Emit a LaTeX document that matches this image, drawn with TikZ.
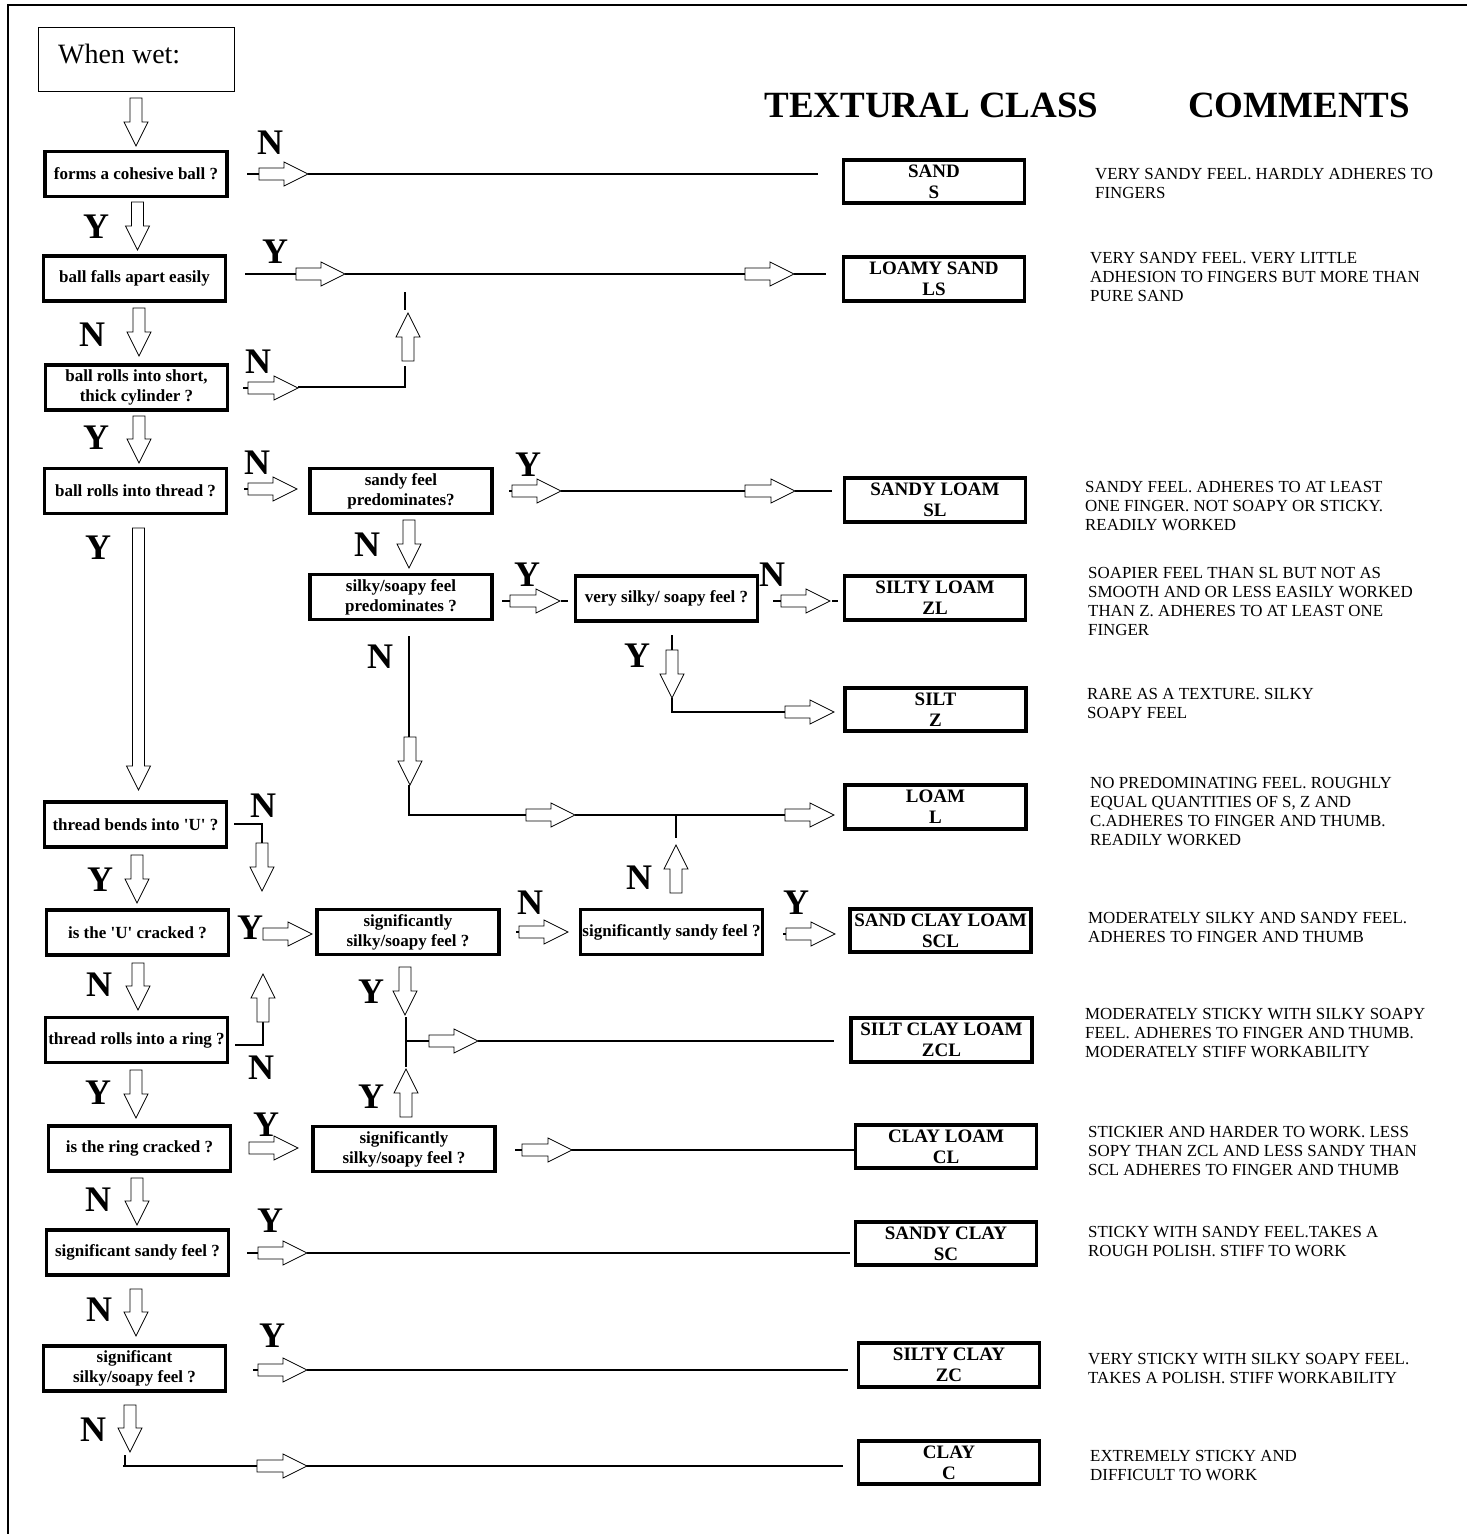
\documentclass[tikz,border=0pt]{standalone}
\usepackage{fontspec}
\setmainfont{Liberation Serif}
\newcommand{\blkarrow}[4]{\draw[blk, shift={(#1,#2)}, rotate=#3] (0,-6) -- ({#4-24},-6) -- ({#4-24},-12) -- (#4,0) -- ({#4-24},12) -- ({#4-24},6) -- (0,6) -- cycle;}
\begin{document}
\begin{tikzpicture}[x=1pt,y=-1pt,
  qbox/.style={draw, line width=3.8pt, minimum width=182pt, minimum height=45pt, inner sep=0pt, align=center, font=\fontsize{17}{20}\selectfont\bfseries},
  cbox/.style={draw, line width=3.8pt, minimum width=181pt, minimum height=43.5pt, inner sep=0pt, align=center, font=\fontsize{19}{21}\selectfont\bfseries},
  yn/.style={font=\fontsize{36}{36}\selectfont\bfseries, inner sep=0pt},
  com/.style={anchor=north west, align=left, inner sep=0pt, font=\fontsize{16.9}{19}\selectfont},
  hdr/.style={font=\fontsize{37}{40}\selectfont\bfseries, inner sep=0pt},
  conn/.style={line width=2.2pt},
  blk/.style={draw, fill=white, line width=0.8pt, line join=miter}
]
\useasboundingbox (0,0) rectangle (1467,1534);
% frame
\draw[line width=2.5pt] (8,1534) -- (8,5) -- (1467,5);
% title box
\node[draw, line width=1.4pt, minimum width=196pt, minimum height=64pt, inner sep=0pt] (wet) at (136.5,59.5) {};
\node[anchor=west, inner sep=0pt, font=\fontsize{28}{30}\selectfont] (wettext) at (58,54) {When wet:};
% headers
\node[hdr] (h1) at (931.5,105) {TEXTURAL CLASS};
\node[hdr] (h2) at (1299,105) {COMMENTS};
% question boxes, left column
\node[qbox] (q1) at (136,174) {forms a cohesive ball ?};
\node[qbox] (q2) at (134.5,278.5) {ball falls apart easily};
\node[qbox] (q3) at (136.5,387.5) {ball rolls into short,\\thick cylinder ?};
\node[qbox] (q4) at (135.5,491) {ball rolls into thread ?};
\node[qbox] (q5) at (135.5,824.5) {thread bends into \textquotesingle U\textquotesingle\ ?};
\node[qbox] (q6) at (137.5,932.5) {is the \textquotesingle U\textquotesingle\ cracked ?};
\node[qbox] (q7) at (136.5,1040) {thread rolls into a ring ?};
\node[qbox] (q8) at (139.5,1148.5) {is the ring cracked ?};
\node[qbox] (q9) at (137.5,1252.5) {significant sandy feel ?};
\node[qbox] (q10) at (134.5,1368.5) {significant\\silky/soapy feel ?};
% middle boxes
\node[qbox] (m1) at (401,491) {sandy feel\\predominates?};
\node[qbox] (m2) at (401,597) {silky/soapy feel\\predominates ?};
\node[qbox] (m3) at (666.5,598.5) {very silky/ soapy feel ?};
\node[qbox] (m4) at (408,932) {significantly\\silky/soapy feel ?};
\node[qbox] (m5) at (671.5,932) {significantly sandy feel ?};
\node[qbox] (m6) at (404,1149) {significantly\\silky/soapy feel ?};
% class boxes
\node[cbox] (cS) at (934,181.5) {SAND\\S\hspace*{0pt}};
\node[cbox] (cLS) at (934,279) {LOAMY SAND\\LS};
\node[cbox] (cSL) at (935,500) {SANDY LOAM\\SL};
\node[cbox] (cZL) at (935,598) {SILTY LOAM\\ZL};
\node[cbox] (cZ) at (935.5,709.5) {SILT\\Z};
\node[cbox] (cL) at (935.5,807) {LOAM\\L};
\node[cbox] (cSCL) at (940.5,930.5) {SAND CLAY LOAM\\SCL};
\node[cbox] (cZCL) at (941.5,1040) {SILT CLAY LOAM\\ZCL};
\node[cbox] (cCL) at (946,1146.5) {CLAY LOAM\\CL};
\node[cbox] (cSC) at (946,1243.5) {SANDY CLAY\\SC};
\node[cbox] (cZC) at (949,1365) {SILTY CLAY\\ZC};
\node[cbox] (cC) at (949,1462.5) {CLAY\\C};
% comments
\node[com] (t1) at (1095,168) {VERY SANDY FEEL. HARDLY ADHERES TO\\FINGERS};
\node[com] (t2) at (1090,252) {VERY SANDY FEEL. VERY LITTLE\\ADHESION TO FINGERS BUT MORE THAN\\PURE SAND};
\node[com] (t3) at (1085,481) {SANDY FEEL. ADHERES TO AT LEAST\\ONE FINGER. NOT SOAPY OR STICKY.\\READILY WORKED};
\node[com] (t4) at (1088,567) {SOAPIER FEEL THAN SL BUT NOT AS\\SMOOTH AND OR LESS EASILY WORKED\\THAN Z. ADHERES TO AT LEAST ONE\\FINGER};
\node[com] (t5) at (1087,688) {RARE AS A TEXTURE. SILKY\\SOAPY FEEL};
\node[com] (t6) at (1090,777) {NO PREDOMINATING FEEL. ROUGHLY\\EQUAL QUANTITIES OF S, Z AND\\C.ADHERES TO FINGER AND THUMB.\\READILY WORKED};
\node[com] (t7) at (1088,912) {MODERATELY SILKY AND SANDY FEEL.\\ADHERES TO FINGER AND THUMB};
\node[com] (t8) at (1085,1008) {MODERATELY STICKY WITH SILKY SOAPY\\FEEL. ADHERES TO FINGER AND THUMB.\\MODERATELY STIFF WORKABILITY};
\node[com] (t9) at (1088,1126) {STICKIER AND HARDER TO WORK. LESS\\SOPY THAN ZCL AND LESS SANDY THAN\\SCL ADHERES TO FINGER AND THUMB};
\node[com] (t10) at (1088,1226) {STICKY WITH SANDY FEEL.TAKES A\\ROUGH POLISH. STIFF TO WORK};
\node[com] (t11) at (1088,1353) {VERY STICKY WITH SILKY SOAPY FEEL.\\TAKES A POLISH. STIFF WORKABILITY};
\node[com] (t12) at (1090,1450) {EXTREMELY STICKY AND\\DIFFICULT TO WORK};
% Y / N labels
\node[yn] (l1) at (270,143) {N};
\node[yn] (l2) at (96,227) {Y};
\node[yn] (l3) at (275,252) {Y};
\node[yn] (l4) at (92,335) {N};
\node[yn] (l5) at (258,362) {N};
\node[yn] (l6) at (96,438) {Y};
\node[yn] (l7) at (257,463) {N};
\node[yn] (l8) at (528,465) {Y};
\node[yn] (l9) at (367,545) {N};
\node[yn] (l10) at (98,548) {Y};
\node[yn] (l11) at (527,575) {Y};
\node[yn] (l12) at (772,575) {N};
\node[yn] (l13) at (637,656) {Y};
\node[yn] (l14) at (380,657) {N};
\node[yn] (l15) at (263,806) {N};
\node[yn] (l16) at (100,880) {Y};
\node[yn] (l17) at (250,928) {Y};
\node[yn] (l18) at (530,903) {N};
\node[yn] (l19) at (639,878) {N};
\node[yn] (l20) at (796,903) {Y};
\node[yn] (l21) at (99,985) {N};
\node[yn] (l22) at (371,992) {Y};
\node[yn] (l23) at (261,1068) {N};
\node[yn] (l24) at (98,1093) {Y};
\node[yn] (l25) at (371,1097) {Y};
\node[yn] (l26) at (266,1125) {Y};
\node[yn] (l27) at (98,1200) {N};
\node[yn] (l28) at (270,1221) {Y};
\node[yn] (l29) at (99,1310) {N};
\node[yn] (l30) at (272,1336) {Y};
\node[yn] (l31) at (93,1430) {N};
% connector lines
\draw[conn] (247,174) -- (259,174);
\draw[conn] (308,174) -- (818,174);
\draw[conn] (245,274) -- (296,274);
\draw[conn] (345,274) -- (745,274);
\draw[conn] (794,274) -- (826,274);
\draw[conn] (243,388) -- (248,388);
\draw[conn] (298,387) -- (405,387) -- (405,366);
\draw[conn] (405,292) -- (405,310);
\draw[conn] (244,489) -- (248,489);
\draw[conn] (509,491) -- (512,491);
\draw[conn] (561,491) -- (745,491);
\draw[conn] (795,491) -- (832,491);
\draw[conn] (502,601) -- (510,601);
\draw[conn] (561,601) -- (568,601);
\draw[conn] (773,601) -- (781,601);
\draw[conn] (832,601) -- (838,601);
\draw[conn] (672,635) -- (672,650);
\draw[conn] (672,698) -- (672,712) -- (785,712);
\draw[conn] (409,636) -- (409,737);
\draw[conn] (409,785) -- (409,815) -- (526,815);
\draw[conn] (575,815) -- (785,815);
\draw[conn] (676,815) -- (676,838);
\draw[conn] (234,824) -- (262,824) -- (262,843);
\draw[conn] (516,932) -- (519,932);
\draw[conn] (783,934) -- (786,934);
\draw[conn] (406,1017) -- (406,1067);
\draw[conn] (406,1041) -- (429,1041);
\draw[conn] (478,1041) -- (834,1041);
\draw[conn] (235,1045) -- (263,1045) -- (263,1022);
\draw[conn] (515,1150) -- (522,1150);
\draw[conn] (571,1150) -- (854,1150);
\draw[conn] (247,1253) -- (258,1253);
\draw[conn] (307,1253) -- (850,1253);
\draw[conn] (253,1370) -- (258,1370);
\draw[conn] (307,1370) -- (848,1370);
\draw[conn] (125,1455) -- (125,1466);
\draw[conn] (123,1466) -- (257,1466);
\draw[conn] (306,1466) -- (843,1466);
% block arrows: tail x, tail y, angle, length
\blkarrow{136}{98}{-90}{48}
\blkarrow{137.5}{202}{-90}{48}
\blkarrow{139}{308}{-90}{48}
\blkarrow{139}{416}{-90}{47}
\blkarrow{138.5}{528}{-90}{262}
\blkarrow{137}{855}{-90}{48}
\blkarrow{138}{963}{-90}{47}
\blkarrow{136}{1070}{-90}{48}
\blkarrow{137}{1178}{-90}{47}
\blkarrow{136}{1289}{-90}{47}
\blkarrow{130}{1405}{-90}{47}
\blkarrow{259}{174}{0}{49}
\blkarrow{296}{274}{0}{49}
\blkarrow{745}{274}{0}{49}
\blkarrow{248}{388}{0}{50}
\blkarrow{408}{361}{90}{48}
\blkarrow{248}{489}{0}{49}
\blkarrow{512}{491}{0}{49}
\blkarrow{745}{491}{0}{50}
\blkarrow{409}{520}{-90}{48}
\blkarrow{510}{601}{0}{50}
\blkarrow{781}{601}{0}{49}
\blkarrow{672}{650}{-90}{48}
\blkarrow{785}{712}{0}{49}
\blkarrow{410}{737}{-90}{48}
\blkarrow{526}{815}{0}{49}
\blkarrow{785}{815}{0}{49}
\blkarrow{676}{893}{90}{48}
\blkarrow{262}{843}{-90}{48}
\blkarrow{263}{934}{0}{49}
\blkarrow{519}{932}{0}{49}
\blkarrow{786}{934}{0}{49}
\blkarrow{405}{967}{-90}{48}
\blkarrow{429}{1041}{0}{49}
\blkarrow{406}{1117}{90}{48}
\blkarrow{263}{1022}{90}{48}
\blkarrow{249}{1148}{0}{49}
\blkarrow{522}{1150}{0}{50}
\blkarrow{258}{1253}{0}{49}
\blkarrow{258}{1370}{0}{49}
\blkarrow{257}{1466}{0}{50}
\end{tikzpicture}
\end{document}
